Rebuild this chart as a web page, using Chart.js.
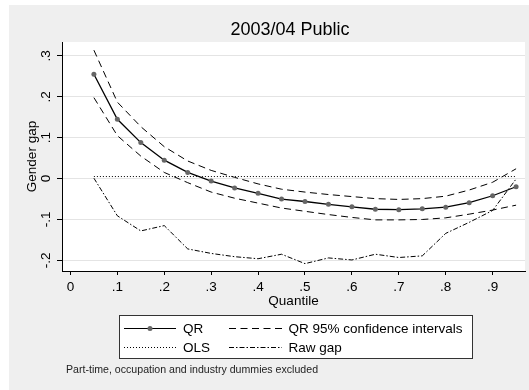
<!DOCTYPE html>
<html>
<head>
<meta charset="utf-8">
<title>2003/04 Public</title>
<script src="https://cdn.jsdelivr.net/npm/chart.js@4.4.1/dist/chart.umd.min.js"></script>
<style>
  html, body { margin: 0; padding: 0; background: #fff; }
  #wrap { position: relative; width: 529px; height: 390px; }
</style>
</head>
<body>
<div id="wrap"><canvas id="c" width="529" height="390"></canvas></div>
<script>
// Quantile regression of the gender gap, public sector 2003/04
const quantiles = [0.05, 0.10, 0.15, 0.20, 0.25, 0.30, 0.35, 0.40, 0.45, 0.50,
                   0.55, 0.60, 0.65, 0.70, 0.75, 0.80, 0.85, 0.90, 0.95];
const qrGap   = [0.255, 0.145, 0.088, 0.045, 0.015, -0.006, -0.023, -0.036, -0.050, -0.056,
                 -0.063, -0.069, -0.075, -0.076, -0.074, -0.070, -0.059, -0.042, -0.020];
const ciUpper = [0.314, 0.187, 0.127, 0.078, 0.043, 0.020, 0.003, -0.013, -0.026, -0.033,
                 -0.039, -0.044, -0.049, -0.051, -0.049, -0.043, -0.028, -0.009, 0.024];
const ciLower = [0.198, 0.105, 0.055, 0.015, -0.010, -0.033, -0.048, -0.060, -0.072, -0.080,
                 -0.088, -0.095, -0.101, -0.101, -0.100, -0.096, -0.087, -0.077, -0.065];
const rawGap  = [0.001, -0.091, -0.128, -0.115, -0.172, -0.183, -0.191, -0.196, -0.185, -0.208,
                 -0.194, -0.199, -0.185, -0.193, -0.189, -0.134, -0.107, -0.078, -0.001];
const olsGap  = 0.005;
const olsRange = [0.05, 0.95];

const xTickValues = [0, 0.1, 0.2, 0.3, 0.4, 0.5, 0.6, 0.7, 0.8, 0.9];
const yTickValues = [-0.2, -0.1, 0, 0.1, 0.2, 0.3];

const titleText = '2003/04 Public';
const legendItems = [
  { label: 'QR', style: 'qr' },
  { label: 'QR 95% confidence intervals', style: 'dash' },
  { label: 'OLS', style: 'dot' },
  { label: 'Raw gap', style: 'dashdot' }
];
const noteText = 'Part-time, occupation and industry dummies excluded';

const FONT = "'Liberation Sans', Arial, Helvetica, sans-serif";
const DASH = [7, 4.5];
const DOT = [1, 2];
const DASHDOT = [5, 2, 1.5, 2];

// Stata-style labels: no leading zero (".1", "-.2")
function shortLabel(v) {
  const r = Math.round(v * 10) / 10;
  if (r === 0) return '0';
  const s = Math.abs(r).toFixed(1).replace(/^0/, '');
  return (r < 0 ? '-' : '') + s;
}

const pairs = (ys) => quantiles.map((q, i) => ({ x: q, y: ys[i] }));

// Grey outer frame with a white plot region
const backdrop = {
  id: 'backdrop',
  beforeDraw(chart) {
    const { ctx, chartArea: a } = chart;
    ctx.save();
    ctx.fillStyle = '#ffffff';
    ctx.fillRect(0, 0, chart.width, chart.height);
    ctx.fillStyle = '#efefef';
    ctx.fillRect(9, 5, chart.width - 9, chart.height - 5);
    ctx.fillStyle = '#ffffff';
    ctx.fillRect(a.left, a.top, a.right - a.left, a.bottom - a.top);
    ctx.restore();
  }
};

// Title, boxed two-column key and the footnote
const annotations = {
  id: 'annotations',
  afterDraw(chart) {
    const ctx = chart.ctx;
    const a = chart.chartArea;
    ctx.save();

    ctx.fillStyle = '#000';
    ctx.font = '18px ' + FONT;
    ctx.textAlign = 'center';
    ctx.textBaseline = 'middle';
    ctx.fillText(titleText, (a.left + a.right) / 2 - 3.5, 30);

    const box = { x: 119.5, y: 315.5, w: 353, h: 43 };
    const rows = [328.5, 347.5];
    const cols = [{ x0: 124, x1: 176, tx: 183 }, { x0: 229, x1: 282, tx: 288.5 }];
    ctx.fillStyle = '#ffffff';
    ctx.fillRect(box.x, box.y, box.w, box.h);
    ctx.strokeStyle = '#333';
    ctx.lineWidth = 1;
    ctx.strokeRect(box.x, box.y, box.w, box.h);

    legendItems.forEach((item, i) => {
      const c = cols[i % 2];
      const y = rows[Math.floor(i / 2)];
      ctx.strokeStyle = '#000';
      ctx.lineWidth = 1;
      ctx.setLineDash(item.style === 'dash' ? DASH : item.style === 'dot' ? DOT :
                      item.style === 'dashdot' ? DASHDOT : []);
      ctx.beginPath();
      ctx.moveTo(c.x0, y);
      ctx.lineTo(c.x1, y);
      ctx.stroke();
      ctx.setLineDash([]);
      if (item.style === 'qr') {
        ctx.fillStyle = '#666';
        ctx.beginPath();
        ctx.arc((c.x0 + c.x1) / 2, y, 2.5, 0, Math.PI * 2);
        ctx.fill();
      }
      ctx.fillStyle = '#000';
      ctx.font = '13.5px ' + FONT;
      ctx.textBaseline = 'middle';
      ctx.textAlign = 'left';
      ctx.fillText(item.label, c.tx, y + 0.5);
    });

    ctx.fillStyle = '#222';
    ctx.font = '10.6px ' + FONT;
    ctx.textAlign = 'left';
    ctx.textBaseline = 'middle';
    ctx.fillText(noteText, 66, 370);
    ctx.restore();
  }
};

const lineBase = { fill: false, tension: 0, pointRadius: 0, borderColor: '#000', borderWidth: 1 };

new Chart(document.getElementById('c'), {
  type: 'line',
  data: {
    datasets: [
      { ...lineBase, label: 'QR', data: pairs(qrGap), borderWidth: 1.3,
        pointRadius: 2.5, pointBackgroundColor: '#666', pointBorderColor: '#666', pointBorderWidth: 0 },
      { ...lineBase, label: 'QR 95% confidence intervals', data: pairs(ciUpper), borderDash: DASH },
      { ...lineBase, label: 'QR 95% lower', data: pairs(ciLower), borderDash: DASH },
      { ...lineBase, label: 'OLS', data: olsRange.map(q => ({ x: q, y: olsGap })), borderDash: DOT },
      { ...lineBase, label: 'Raw gap', data: pairs(rawGap), borderDash: DASHDOT }
    ]
  },
  options: {
    responsive: false,
    animation: false,
    devicePixelRatio: 1,
    layout: { padding: { left: 9, top: 42, right: 0, bottom: 81 } },
    plugins: {
      legend: { display: false },
      tooltip: { enabled: false },
      title: { display: false }
    },
    scales: {
      x: {
        type: 'linear', min: -0.018, max: 0.969,
        afterBuildTicks: s => { s.ticks = xTickValues.map(v => ({ value: v })); },
        afterFit: s => { s.height = 38; },
        grid: { drawOnChartArea: false, tickColor: '#000', tickLength: 4 },
        border: { color: '#000', width: 1 },
        ticks: { autoSkip: false, maxRotation: 0, padding: 4, color: '#000',
                 font: { family: FONT, size: 13.5 }, callback: v => shortLabel(v) },
        title: { display: true, text: 'Quantile', color: '#000', padding: 0,
                 font: { family: FONT, size: 13.5 } }
      },
      y: {
        type: 'linear', min: -0.226, max: 0.334,
        afterBuildTicks: s => { s.ticks = yTickValues.map(v => ({ value: v })); },
        afterFit: s => { s.width = 53; },
        grid: { color: '#e4e4e4', lineWidth: 1, tickColor: '#000', tickLength: 5 },
        border: { color: '#000', width: 1 },
        ticks: { autoSkip: false, minRotation: 90, maxRotation: 90, crossAlign: 'center',
                 padding: 3, color: '#000', font: { family: FONT, size: 13.5 },
                 callback: v => shortLabel(v) },
        title: { display: true, text: 'Gender gap', color: '#000',
                 padding: { top: 15, bottom: 0 }, font: { family: FONT, size: 13.5 } }
      }
    }
  },
  plugins: [backdrop, annotations]
});
</script>
</body>
</html>
